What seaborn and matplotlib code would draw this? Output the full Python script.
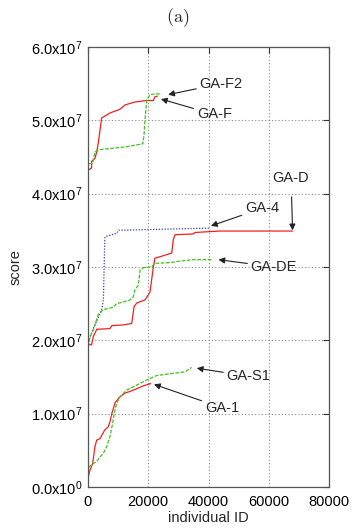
import pandas as pd
import matplotlib
matplotlib.use('Agg')
import matplotlib.pyplot as plt
import seaborn as sns

# GA-F (red, top group)
gaf_x = [0, 1200, 1200, 2300, 2900, 3400, 4000, 4500, 7300, 10600, 12300, 15600, 19500, 21700, 22200, 23000]
gaf_y = [4.32e7, 4.35e7, 4.44e7, 4.48e7, 4.57e7, 4.69e7, 4.87e7, 5.03e7, 5.10e7, 5.15e7, 5.21e7, 5.25e7, 5.27e7, 5.27e7, 5.32e7, 5.33e7]

# GA-F2 (green dashed, top group)
gaf2_x = [0, 0, 1550, 2300, 4000, 12800, 18200, 18600, 18900, 19500, 20600, 22200, 24400]
gaf2_y = [4.28e7, 4.41e7, 4.41e7, 4.57e7, 4.60e7, 4.64e7, 4.68e7, 4.80e7, 5.00e7, 5.28e7, 5.35e7, 5.36e7, 5.36e7]

# GA-4 (blue dotted)
ga4_x = [100, 1750, 4500, 5100, 5600, 9500, 10100, 19500, 40500]
ga4_y = [1.98e7, 2.16e7, 2.41e7, 2.55e7, 3.41e7, 3.46e7, 3.50e7, 3.51e7, 3.53e7]

# GA-D (red, middle group)
gad_x = [100, 1200, 1750, 2900, 7300, 7900, 11700, 14500, 15300, 16200, 18900, 20000, 20600, 21100,
         21700, 22200, 23900, 27800, 28300, 28900, 34900, 35500, 39400, 43800, 67900]
gad_y = [1.94e7, 1.94e7, 2.05e7, 2.15e7, 2.16e7, 2.20e7, 2.21e7, 2.23e7, 2.46e7, 2.51e7, 2.55e7, 2.62e7, 2.66e7, 2.82e7,
         3.00e7, 3.12e7, 3.14e7, 3.19e7, 3.37e7, 3.44e7, 3.45e7, 3.47e7, 3.48e7, 3.49e7, 3.49e7]

# GA-DE (green dashed, middle group)
gade_x = [100, 660, 1750, 3400, 5100, 8400, 9500, 12300, 13900, 15000, 15600, 16700, 17300, 18400,
          21100, 22200, 27200, 30500, 34900, 41000]
gade_y = [1.91e7, 2.05e7, 2.14e7, 2.35e7, 2.42e7, 2.45e7, 2.50e7, 2.53e7, 2.55e7, 2.59e7, 2.69e7, 2.75e7, 2.96e7, 2.99e7,
          3.00e7, 3.05e7, 3.06e7, 3.08e7, 3.10e7, 3.10e7]

# GA-1 (red, bottom group)
ga1_x = [0, 660, 1550, 2300, 2900, 4000, 4500, 5600, 6700, 7300, 7900, 9000, 10600, 12300, 15000, 18400, 20800]
ga1_y = [1.2e6, 2.3e6, 3.2e6, 5.5e6, 6.4e6, 6.6e6, 7.0e6, 7.8e6, 8.2e6, 8.9e6, 1.00e7, 1.15e7, 1.23e7, 1.28e7, 1.32e7, 1.38e7, 1.41e7]

# GA-S1 (green dashed, bottom group)
gas1_x = [0, 440, 1750, 2900, 4000, 5100, 6200, 7300, 8100, 8700, 9500, 10600, 12800, 16200, 19500, 22800, 28300, 32200, 34400]
gas1_y = [1.2e6, 2.8e6, 3.2e6, 3.5e6, 4.1e6, 4.6e6, 5.5e6, 6.9e6, 8.5e6, 1.00e7, 1.14e7, 1.23e7, 1.32e7, 1.39e7, 1.46e7, 1.52e7, 1.55e7, 1.57e7, 1.63e7]

x_ticks = [0, 20000, 40000, 60000, 80000]
y_ticks = [0, 1e7, 2e7, 3e7, 4e7, 5e7, 6e7]
y_labels = [r'0.0x10$^{0}$', r'1.0x10$^{7}$', r'2.0x10$^{7}$', r'3.0x10$^{7}$',
            r'4.0x10$^{7}$', r'5.0x10$^{7}$', r'6.0x10$^{7}$']

# label, tip (x, y), text (x, y)
notes = [
    ('GA-F2', (26600, 5.35e7), (37000, 5.50e7)),
    ('GA-F', (24200, 5.29e7), (36100, 5.08e7)),
    ('GA-4', (40800, 3.56e7), (52100, 3.80e7)),
    ('GA-DE', (43300, 3.10e7), (54000, 3.00e7)),
    ('GA-S1', (36100, 1.62e7), (46000, 1.51e7)),
    ('GA-1', (21900, 1.40e7), (38800, 1.08e7)),
]

sns.set_style('white')
plt.rcParams['font.family'] = ['Liberation Sans', 'DejaVu Sans']
plt.rcParams['mathtext.default'] = 'regular'

fig = plt.figure(figsize=(3.52, 5.29), dpi=100)
ax = fig.add_axes([0.25, 0.0794, 0.6847, 0.8318])

red = '#f02020'
green = '#44c020'
blue = '#3040c0'

series = [
    (gaf_x, gaf_y, red, '-', 0.9),
    (gaf2_x, gaf2_y, green, (0, (3, 1.2)), 0.9),
    (ga4_x, ga4_y, blue, (0, (1, 1.3)), 0.9),
    (gad_x, gad_y, red, '-', 0.9),
    (gade_x, gade_y, green, (0, (3, 1.2)), 0.9),
    (ga1_x, ga1_y, red, '-', 0.9),
    (gas1_x, gas1_y, green, (0, (3, 1.2)), 0.9),
]
for xs, ys, c, ls, lw in series:
    df = pd.DataFrame({'x': xs, 'y': ys})
    sns.lineplot(data=df, x='x', y='y', ax=ax, color=c, linestyle=ls, linewidth=lw,
                 sort=False, estimator=None)

ax.set_xlim(0, 80000)
ax.set_ylim(0, 6e7)
ax.set_xticks(x_ticks)
ax.set_xticklabels([str(t) for t in x_ticks])
ax.set_yticks(y_ticks)
ax.set_yticklabels(y_labels)
ax.grid(True, color='#888888', linestyle=(0, (1, 2)), linewidth=0.8)
ax.tick_params(direction='in', length=4, width=0.8, top=True, right=True,
               labelsize=10.5, colors='#333333', labelcolor='black')
ax.tick_params(axis='x', pad=6)
ax.tick_params(axis='y', pad=4)
for s in ax.spines.values():
    s.set_color('#555555')
    s.set_linewidth(0.9)

ax.set_xlabel('individual ID', fontsize=10.5, labelpad=1.5)
ax.set_ylabel('score', fontsize=10.5, labelpad=6)

arrow = dict(arrowstyle='-|>', color='#222222', lw=0.8, mutation_scale=9, shrinkA=0, shrinkB=0)
for label, tip, txt in notes:
    ax.annotate(label, xy=tip, xytext=txt, ha='left', va='center', fontsize=10.5,
                arrowprops=arrow)
ax.annotate('GA-D', xy=(67900, 3.50e7), xytext=(67400, 4.21e7), ha='center', va='center',
            fontsize=10.5, arrowprops=dict(arrow, shrinkA=6))

plt.rcParams['mathtext.fontset'] = 'cm'
fig.text(0.505, 0.966, r'$\mathrm{(a)}$', ha='center', va='center', fontsize=13)

fig.savefig('out.png', dpi=100)
